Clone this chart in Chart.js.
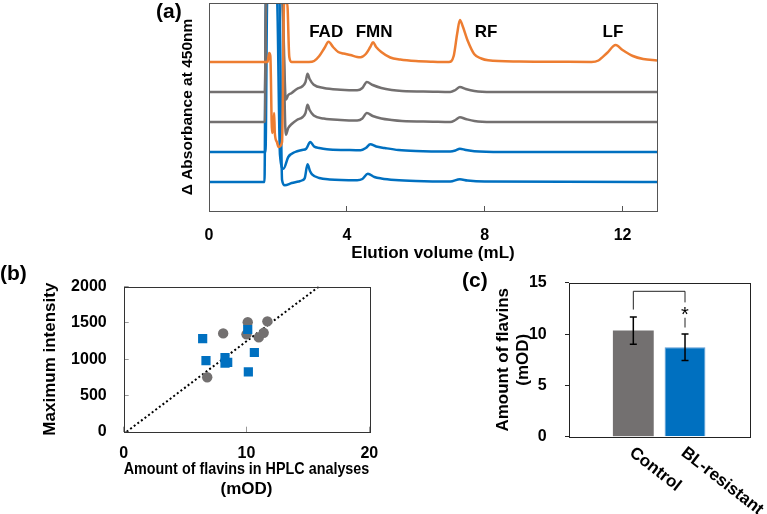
<!DOCTYPE html>
<html>
<head>
<meta charset="utf-8">
<script src="https://cdn.jsdelivr.net/npm/chart.js@4.4.0/dist/chart.umd.min.js"></script>
<style>
  body { margin: 0; background: #fff; }
  #wrap { position: relative; width: 767px; height: 514px; overflow: hidden; font-family: "Liberation Sans", Arial, sans-serif; }
  .box { position: absolute; }
  .tag { position: absolute; font-weight: bold; font-size: 21px; line-height: 24px; }
</style>
</head>
<body>
<div id="wrap">
  <div class="box" style="left:150px;top:0;width:530px;height:270px"><canvas id="chartA"></canvas></div>
  <div class="box" style="left:0;top:255px;width:420px;height:259px"><canvas id="chartB"></canvas></div>
  <div class="box" style="left:440px;top:255px;width:327px;height:259px"><canvas id="chartC"></canvas></div>
  <div class="tag" style="left:156px;top:-1px">(a)</div>
  <div class="tag" style="left:0px;top:261px">(b)</div>
  <div class="tag" style="left:462px;top:268px">(c)</div>
</div>
<script>
// ---- panel (a): HPLC traces, [elution volume (mL), height above own baseline]
const orangeTrace = [[0,0],[1.70,0],[1.745,9],[1.78,6],[1.83,-71],[1.87,-65],[1.89,-51],[1.91,-71],[1.97,-80],[2.02,-85],[2.12,-80],[2.18,59],[2.27,59],[2.33,5],[2.4,0],
  [2.9,0],[3.05,1],[3.2,6],[3.35,14],[3.47,20.3],[3.6,15],[3.75,10],[3.9,8.5],[4.1,7],[4.3,5],[4.4,4.7],[4.55,8],[4.68,15],[4.76,19.7],[4.85,15],[5.0,10],[5.26,4.5],[5.55,2.5],[6.0,1],[6.5,0.3],
  [6.96,0],[7.1,6],[7.2,28],[7.28,42],[7.36,36],[7.51,21],[7.7,7.7],[7.9,3.5],[8.1,1.7],[9,0.5],[10,0.3],[11.1,0],[11.3,1.5],[11.55,9],[11.8,17],[12.0,12],[12.3,6],[12.6,3],[13,1.5]];
const grayTrace1 = [[0,0],[1.58,0],[1.62,0.5],[1.66,95],[2.12,95],[2.23,-7.7],[2.3,-3],[2.4,-1],[2.55,3],[2.72,6],[2.8,10],[2.86,18.3],[2.92,13],[3.04,7.3],[3.33,4],[3.82,2.3],[4.3,1.7],
  [4.45,4],[4.58,10],[4.75,7],[5.0,4],[5.3,2],[5.6,1],[6.5,0.3],[7.0,0],[7.15,2],[7.28,5],[7.45,3],[7.7,1],[8.2,0],[13,0]];
const grayTrace2 = [[0,0],[1.58,0],[1.62,0.5],[1.66,125],[2.12,125],[2.23,-12.7],[2.3,-6],[2.4,-2],[2.55,2],[2.72,5],[2.8,9],[2.86,17.3],[2.92,12],[3.04,6.5],[3.33,3.5],[3.82,2],[4.3,1.5],
  [4.45,3.5],[4.58,9],[4.75,6],[5.0,3.5],[5.3,2],[5.6,1],[6.5,0.3],[7.0,0],[7.15,2],[7.28,4.7],[7.45,3],[7.7,1],[8.2,0],[13,0]];
const blueTrace1 = [[0,0],[1.64,0],[1.69,155],[1.97,155],[2.06,-3],[2.16,-16.7],[2.3,-5],[2.5,0],[2.7,2],[2.82,3.3],[2.94,10],[3.05,5.5],[3.2,4],[3.42,2.7],[4.0,2],[4.4,1.7],
  [4.55,4],[4.68,7.7],[4.85,5.5],[5.1,4],[5.5,2],[6,1],[7.0,0.5],[7.15,1.5],[7.28,3.3],[7.45,2],[7.7,0.7],[8.5,0],[13,0]];
const blueTrace2 = [[0,0],[1.61,0],[1.65,185],[2.04,185],[2.12,2],[2.2,-3.3],[2.4,-1],[2.6,0.5],[2.71,1.7],[2.78,4],[2.86,17.7],[2.93,11],[2.99,7.7],[3.2,4],[3.5,2.5],[4.3,1.7],
  [4.45,3],[4.61,8.3],[4.8,5],[5.0,3.5],[5.4,2],[6,1],[7.0,0.5],[7.28,2.7],[7.5,1.5],[8,0.5],[13,0]];
const traceOffsets = [149, 119, 89, 59, 29];
const peakNames = ['FAD', 'FMN', 'RF', 'LF'];
const peakNameX = [3.4, 4.79, 8.04, 11.72];
const elutionTicks = [0, 4, 8, 12];

// ---- panel (b): flavins (mOD) vs maximum intensity
const controlFlavin = [10.1, 11.7, 8.1, 10.0, 11.0, 11.4, 6.8];
const controlIntensity = [1509, 1521, 1355, 1342, 1300, 1363, 750];
const resistantFlavin = [6.43, 10.1, 6.7, 8.25, 8.47, 8.25, 10.64, 10.15];
const resistantIntensity = [1284, 1409, 980, 1021, 955, 946, 1092, 825];
const fitLineX = [0.24, 15.9];
const fitLineY = [0, 2000];
const flavinTicks = [0, 10, 20];
const intensityTicks = [0, 500, 1000, 1500, 2000];

// ---- panel (c): mean amount of flavins
const groups = ['Control', 'BL-resistant'];
const groupMeans = [10.35, 8.72];
const groupSD = [1.33, 1.3];
const amountTicks = [0, 5, 10, 15];

const FONT = '"Liberation Sans", Arial, sans-serif';
Chart.defaults.font.family = FONT;
Chart.defaults.font.weight = 'bold';
Chart.defaults.font.size = 16;
Chart.defaults.color = '#000';
Chart.defaults.animation = false;

const ORANGE = '#ED7D31';
const GRAY = '#737070';
const BLUE = '#0070C0';

const framePlugin = {
  id: 'frame',
  afterDraw(chart, args, opts) {
    const a = chart.chartArea;
    const ctx = chart.ctx;
    ctx.save();
    ctx.strokeStyle = opts.color || '#000';
    ctx.lineWidth = 1;
    ctx.strokeRect(Math.round(a.left) + 0.5, Math.round(a.top) + 0.5, Math.round(a.right - a.left), Math.round(a.bottom - a.top));
    ctx.restore();
  }
};

function fixWidth(w) { return function(s) { s.width = w; }; }
function fixHeight(h) { return function(s) { s.height = h; }; }
function setTicks(arr) { return function(s) { s.ticks = arr.map(v => ({value: v})); }; }
const plain = v => String(v);

// ---------- (a)
const traces = [orangeTrace, grayTrace1, grayTrace2, blueTrace1, blueTrace2];
const traceColors = [ORANGE, GRAY, GRAY, BLUE, BLUE];

const peakLabelPlugin = {
  id: 'peakLabels',
  afterDatasetsDraw(chart) {
    const ctx = chart.ctx;
    ctx.save();
    ctx.font = 'bold 17px ' + FONT;
    ctx.fillStyle = '#000';
    ctx.textAlign = 'center';
    ctx.textBaseline = 'middle';
    peakNames.forEach((n, i) => {
      ctx.fillText(n, chart.scales.x.getPixelForValue(peakNameX[i]), chart.scales.y.getPixelForValue(179));
    });
    ctx.restore();
  }
};

new Chart(document.getElementById('chartA'), {
  type: 'line',
  data: {
    datasets: traces.map((t, i) => ({
      data: t.map(p => ({x: p[0], y: p[1] + traceOffsets[i]})),
      borderColor: traceColors[i],
      borderWidth: 2.5,
      pointRadius: 0,
      cubicInterpolationMode: 'monotone'
    }))
  },
  options: {
    responsive: true,
    maintainAspectRatio: false,
    layout: {padding: {left: 0, right: 23, top: 3, bottom: 0}},
    plugins: {legend: {display: false}, tooltip: {enabled: false}, frame: {color: '#555'}},
    scales: {
      x: {
        type: 'linear', min: 0, max: 13,
        afterBuildTicks: setTicks(elutionTicks),
        afterFit: fixHeight(59),
        grid: {drawOnChartArea: false, tickLength: -5, color: '#555'},
        border: {display: false},
        ticks: {padding: 20, callback: plain},
        title: {display: true, text: 'Elution volume (mL)', font: {size: 17, weight: 'bold'}, padding: {top: 0, bottom: 6}}
      },
      y: {
        type: 'linear', min: 0, max: 208,
        afterFit: fixWidth(59),
        grid: {display: false},
        border: {display: false},
        ticks: {display: false},
        title: {display: true, text: 'Δ Absorbance at 450nm', font: {size: 15.5, weight: 'bold'}, padding: {top: 28, bottom: 0}}
      }
    }
  },
  plugins: [framePlugin, peakLabelPlugin]
});

// ---------- (b)
new Chart(document.getElementById('chartB'), {
  type: 'scatter',
  data: {
    datasets: [
      {
        data: resistantFlavin.map((v, i) => ({x: v, y: resistantIntensity[i]})),
        backgroundColor: BLUE, borderColor: BLUE, borderWidth: 0,
        pointStyle: 'rect', pointRadius: 6.5
      },
      {
        data: controlFlavin.map((v, i) => ({x: v, y: controlIntensity[i]})),
        backgroundColor: GRAY, borderColor: GRAY, borderWidth: 0,
        pointStyle: 'circle', pointRadius: 5.2
      },
      {
        type: 'line',
        data: fitLineX.map((v, i) => ({x: v, y: fitLineY[i]})),
        borderColor: '#000', borderWidth: 2, borderDash: [2, 2.5],
        pointRadius: 0, showLine: true
      }
    ]
  },
  options: {
    responsive: true,
    maintainAspectRatio: false,
    layout: {padding: {left: 0, right: 50.7, top: 16.7, bottom: 0}},
    plugins: {legend: {display: false}, tooltip: {enabled: false}, frame: {color: '#333'}},
    scales: {
      x: {
        type: 'linear', min: 0, max: 20,
        afterBuildTicks: setTicks(flavinTicks),
        afterFit: fixHeight(82.3),
        grid: {drawOnChartArea: false, tickLength: -5, color: '#999'},
        border: {display: false},
        ticks: {padding: 17, callback: plain},
        title: {display: true, text: ['Amount of flavins in HPLC analyses', '(mOD)'], font: {size: 17, weight: 'bold'}, padding: {top: 0, bottom: 14}}
      },
      y: {
        type: 'linear', min: 0, max: 2000,
        afterBuildTicks: setTicks(intensityTicks),
        afterFit: fixWidth(123.7),
        grid: {drawOnChartArea: false, tickLength: -5, color: '#999'},
        border: {display: false},
        ticks: {padding: 22, callback: plain},
        title: {display: true, text: 'Maximum intensity', font: {size: 17, weight: 'bold'}, padding: {top: 40, bottom: 0}}
      }
    }
  },
  plugins: [framePlugin]
});

// ---------- (c)
const barExtrasPlugin = {
  id: 'barExtras',
  afterDatasetsDraw(chart) {
    const ctx = chart.ctx;
    const xs = chart.scales.x, ys = chart.scales.y;
    ctx.save();
    // error bars
    ctx.strokeStyle = '#000';
    ctx.lineWidth = 1.5;
    groups.forEach((g, i) => {
      const x = xs.getPixelForValue(i);
      const yt = ys.getPixelForValue(groupMeans[i] + groupSD[i]);
      const yb = ys.getPixelForValue(groupMeans[i] - groupSD[i]);
      ctx.beginPath();
      ctx.moveTo(x, yt); ctx.lineTo(x, yb);
      ctx.moveTo(x - 3.5, yt); ctx.lineTo(x + 3.5, yt);
      ctx.moveTo(x - 3.5, yb); ctx.lineTo(x + 3.5, yb);
      ctx.stroke();
    });
    // significance bracket
    const x0 = xs.getPixelForValue(0), x1 = xs.getPixelForValue(1);
    ctx.lineWidth = 1;
    ctx.strokeStyle = '#222';
    ctx.beginPath();
    ctx.moveTo(x0, ys.getPixelForValue(12.4));
    ctx.lineTo(x0, ys.getPixelForValue(14.18));
    ctx.lineTo(x1, ys.getPixelForValue(14.18));
    ctx.lineTo(x1, ys.getPixelForValue(13.1));
    ctx.moveTo(x1, ys.getPixelForValue(11.6));
    ctx.lineTo(x1, ys.getPixelForValue(10.65));
    ctx.stroke();
    ctx.font = '20px ' + FONT;
    ctx.fillStyle = '#000';
    ctx.textAlign = 'center';
    ctx.textBaseline = 'alphabetic';
    ctx.fillText('*', x1, ys.getPixelForValue(12.37) + 11);
    // rotated category labels
    ctx.font = 'bold 17px ' + FONT;
    ctx.textAlign = 'left';
    ctx.textBaseline = 'middle';
    groups.forEach((g, i) => {
      ctx.save();
      ctx.translate(xs.getPixelForValue(i) - 2, chart.chartArea.bottom + 14);
      ctx.rotate(38 * Math.PI / 180);
      ctx.fillText(g, 0, 0);
      ctx.restore();
    });
    ctx.restore();
  }
};

new Chart(document.getElementById('chartC'), {
  type: 'bar',
  data: {
    datasets: [{
      data: groups.map((g, i) => ({x: i, y: groupMeans[i]})),
      backgroundColor: [GRAY, BLUE],
      borderColor: [GRAY, '#5B9BD5'],
      borderWidth: [0, 1],
      categoryPercentage: 1,
      barPercentage: 0.79
    }]
  },
  options: {
    responsive: true,
    maintainAspectRatio: false,
    layout: {padding: {left: 0, right: 17, top: 18.3, bottom: 0}},
    plugins: {legend: {display: false}, tooltip: {enabled: false}, frame: {color: '#222'}},
    scales: {
      x: {
        type: 'linear', min: -1.244, max: 2.257, offset: false,
        afterFit: fixHeight(77.3),
        grid: {display: false},
        border: {display: false},
        ticks: {display: false}
      },
      y: {
        type: 'linear', min: 0, max: 15,
        afterBuildTicks: setTicks(amountTicks),
        afterFit: fixWidth(129),
        grid: {drawOnChartArea: false, tickLength: 4, color: '#222'},
        border: {display: false},
        ticks: {padding: 18.3, callback: plain},
        title: {display: true, text: ['Amount of flavins', '(mOD)'], font: {size: 17, weight: 'bold'}, padding: {top: 53, bottom: 0}}
      }
    }
  },
  plugins: [framePlugin, barExtrasPlugin]
});
</script>
</body>
</html>
